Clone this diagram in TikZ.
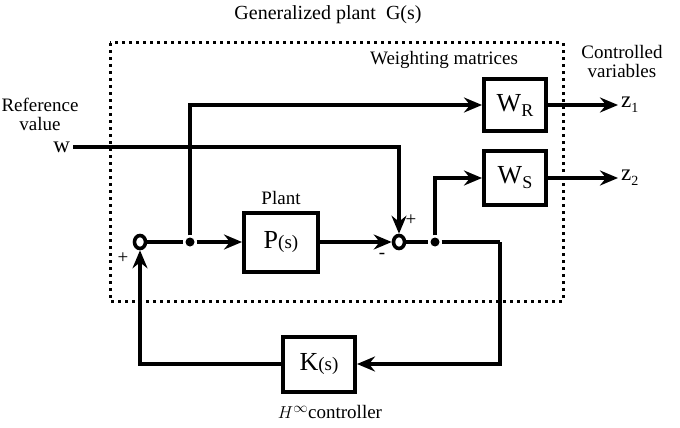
\documentclass[tikz,border=0pt]{standalone}
\usepackage{fontspec}
\setmainfont{Liberation Serif}
\usetikzlibrary{arrows.meta,positioning,shapes.geometric}

\begin{document}
\begin{tikzpicture}[
		x=1pt,y=1pt,
		>={Stealth[length=18pt,width=15pt,inset=6pt]},
		line width=4.2pt,
		block/.style={rectangle,draw,line width=4pt,inner sep=0pt},
		junction/.style={ellipse,draw,line width=3.6pt,minimum width=11pt,minimum height=13pt,inner sep=0pt},
		tap/.style={circle,fill,inner sep=0pt,minimum size=9pt},
		txt/.style={font=\fontsize{19}{21}\selectfont,align=center},
		sig/.style={font=\fontsize{23}{25}\selectfont,inner sep=1pt}
	]
	\useasboundingbox (0,0) rectangle (680,-428);

	% generalized plant boundary
	\draw[line width=3pt,dash pattern=on 3pt off 4pt] (110,-43) rectangle (563,-301);
	\node[txt,font=\fontsize{20}{22}\selectfont] (gtitle) at (328,-15) {Generalized plant\ \ G(s)};
	\node[txt] (wtitle) at (444,-60) {Weighting matrices};
	\node[txt] (ctitle) at (622,-62) {Controlled\\[-2pt]variables};
	\node[txt] (rtitle) at (40,-114) {Reference\\[-2pt]value};

	% blocks
	\node[block,minimum width=74pt,minimum height=59pt] (plant) at (281,-242)
		{\fontsize{26}{28}\selectfont P{\fontsize{19}{21}\selectfont(s)}};
	\node[txt,above=0pt of plant] (plantlbl) {Plant};
	\node[block,minimum width=62pt,minimum height=52pt] (wr) at (515,-105)
		{\fontsize{26}{28}\selectfont W\raisebox{-5pt}{\fontsize{18}{20}\selectfont R}};
	\node[block,minimum width=62pt,minimum height=54pt] (ws) at (515,-178)
		{\fontsize{26}{28}\selectfont W\raisebox{-5pt}{\fontsize{18}{20}\selectfont S}};
	\node[block,minimum width=72pt,minimum height=55pt] (k) at (319,-364)
		{\fontsize{26}{28}\selectfont K{\fontsize{19}{21}\selectfont(s)}};
	\node[txt] (klbl) at (330,-412) {$H^{\infty}$controller};

	% summing points and branch points
	\node[junction] (sum1) at (140,-242) {};
	\node[junction] (sum2) at (399,-242) {};
	\node[tap] (tap1) at (190,-242) {};
	\node[tap] (tap2) at (435,-242) {};
	\coordinate (fb) at (500,-242);

	% signals
	\node[sig,anchor=east] (w) at (73,-147) {w};
	\node[sig,anchor=west] (z1) at (618,-105) {z\raisebox{-5pt}{\fontsize{14}{15}\selectfont 1}};
	\node[sig,anchor=west] (z2) at (618,-178) {z\raisebox{-5pt}{\fontsize{14}{15}\selectfont 2}};

	\node[txt] (p1) at (123,-258) {+};
	\node[txt] (p2) at (411,-220) {+};
	\node[txt] (m2) at (382,-256) {-};

	\draw (sum1) -- (tap1);
	\draw[->] (tap1) -- (plant);
	\draw[->] (tap1) |- (wr);
	\draw[->] (plant) -- (sum2);
	\draw[->] (w.east) -| (sum2);
	\draw (sum2) -- (tap2) -- (fb);
	\draw[->] (tap2) |- (ws);
	\draw[->] (wr.east) -- (z1.west);
	\draw[->] (ws.east) -- (z2.west);
	\draw[->] (fb) |- (k);
	\draw[->] (k) -| (sum1);
\end{tikzpicture}
\end{document}
